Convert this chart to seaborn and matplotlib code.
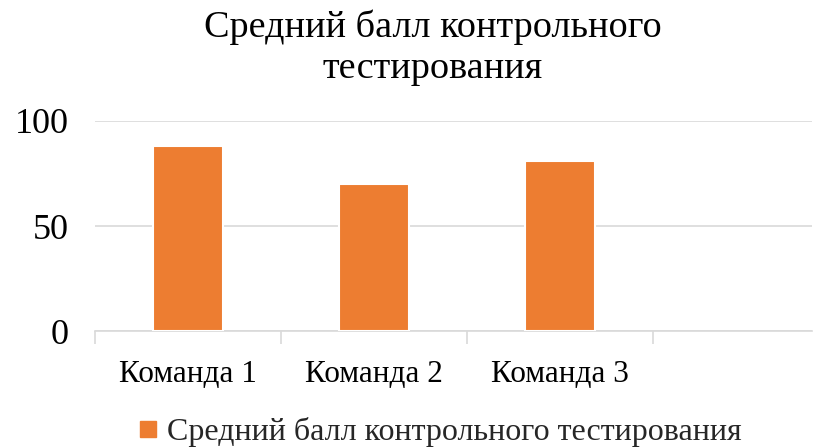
import numpy as np
import pandas as pd
import matplotlib
matplotlib.use("Agg")
import matplotlib.pyplot as plt
from matplotlib.lines import Line2D
import seaborn as sns

teams = ["Команда 1", "Команда 2", "Команда 3"]
scores = [88, 70, 81]
order = teams + [""]
series_name = "Средний балл контрольного тестирования"
title = "Средний балл контрольного\nтестирования"
yticks = [0, 50, 100]

sns.set_theme(style="white")
plt.rcParams["font.family"] = ["Liberation Serif", "DejaVu Serif"]

df = pd.DataFrame({"team": teams, "score": scores})

fig = plt.figure(figsize=(8.2, 4.48), dpi=100)
ax = fig.add_axes([0.116, 0.261, 0.874, 0.469])

sns.barplot(data=df, x="team", y="score", order=order, color="#ED7D31",
            saturation=1, width=0.376, edgecolor="white", linewidth=1.5,
            ax=ax, zorder=3)

ax.set_ylim(0, 100)
ax.set_xlim(-0.5, 3.355)
ax.set_yticks(yticks)
ax.yaxis.grid(True, color="#d9d9d9", linewidth=1.2, zorder=0)
ax.set_axisbelow(True)
for s in ["left", "top", "right"]:
    ax.spines[s].set_visible(False)
ax.spines["bottom"].set_color("#d9d9d9")
ax.spines["bottom"].set_linewidth(1.2)

ax.tick_params(axis="y", length=0, pad=19, labelsize=26, labelcolor="black")
ax.tick_params(axis="x", which="major", length=0, pad=21, labelsize=22.5, labelcolor="black")
ax.set_xticks(np.arange(-0.5, 3.5, 1.0), minor=True)
ax.tick_params(axis="x", which="minor", bottom=True, length=9, width=1.2,
               color="#d9d9d9", direction="out")
ax.set_xlabel("")
ax.set_ylabel("")

fig.text(0.528, 0.978, title, ha="center", va="top", fontsize=27.5,
         linespacing=1.25, color="black")

handle = Line2D([], [], marker="s", linestyle="none", color="#ED7D31", markersize=11)
fig.legend([handle], [series_name], loc="center", bbox_to_anchor=(0.537, 0.036),
           frameon=False, fontsize=23, handlelength=0.6, handletextpad=0.3,
           borderaxespad=0)

fig.savefig("out.png", dpi=100)
